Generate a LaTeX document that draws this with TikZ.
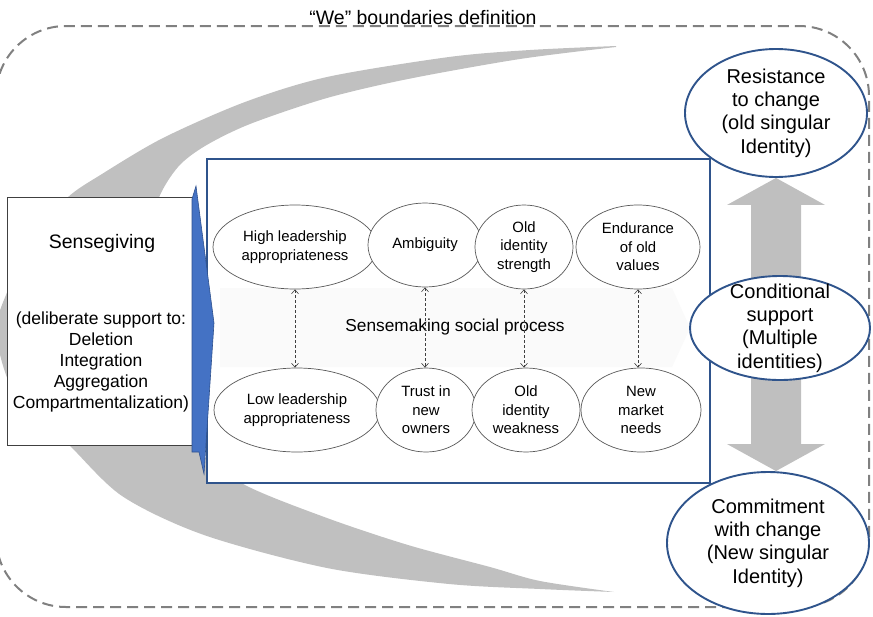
\documentclass[tikz,border=0pt]{standalone}
\usepackage{fontspec}
\setmainfont{Liberation Sans}
\usetikzlibrary{shapes.geometric,arrows.meta,backgrounds,calc}
\definecolor{bdgray}{RGB}{128,128,128}
\definecolor{cresgray}{RGB}{192,192,192}
\definecolor{arrgray}{RGB}{191,191,191}
\definecolor{boxblue}{RGB}{47,84,140}
\definecolor{chevfill}{RGB}{68,114,196}
\definecolor{chevline}{RGB}{47,82,143}
\definecolor{elgray}{RGB}{89,89,89}
\definecolor{sgline}{RGB}{64,64,64}
\begin{document}
\begin{tikzpicture}[x=1pt,y=-1pt,
  inell/.style={ellipse, draw=elgray, line width=0.7pt, fill=white, inner sep=0pt,
    font=\fontsize{14.9}{18.5}\selectfont, align=center},
  rell/.style={ellipse, draw=boxblue, line width=1.9pt, fill=white, inner xsep=0pt, inner ysep=-15pt,
    font=\fontsize{20}{23.4}\selectfont, align=center},
  darr/.style={densely dashed, line width=0.6pt, draw=black!75,
    {Straight Barb[length=4pt,width=7pt]}-{Straight Barb[length=4pt,width=7pt]}},
  sgtext/.style={font=\fontsize{17.5}{20.8}\selectfont, align=center, inner sep=0pt}
]
\useasboundingbox (0,0) rectangle (873,616);

% "We" boundary
\draw[bdgray, line width=2pt, dash pattern=on 11pt off 6pt, rounded corners=70pt]
  (-4,26) rectangle (869,607);
\node[font=\fontsize{19.5}{22}\selectfont, anchor=base, inner sep=0pt] (title) at (423,24)
  {“We” boundaries definition};

% crescent
\fill[cresgray]
  plot[smooth] coordinates {(616,46) (530,50) (449,57) (327,77) (245,102) (163,138) (102,174) (67,198)
    (32,240) (8,290) (-4,330) (8,380) (32,415) (67,443) (122,496) (204,535) (327,568) (449,584)
    (540,589) (614,592)}
  -- plot[smooth] coordinates {(614,592) (540,581) (490,567) (408,545) (327,518) (245,485) (195,448)
    (160,400) (140,330) (145,255) (158,200) (178,167) (205,146) (250,124) (327,98) (408,79) (520,59) (616,47)}
  -- cycle;

% sensegiving box
\node[draw=sgline, line width=0.8pt, fill=white, minimum width=186pt, minimum height=248pt,
  anchor=north west, inner sep=0pt] (sg) at (7,197) {};
\node[font=\fontsize{19.5}{22}\selectfont, inner sep=0pt] (sgtitle) at (102,243) {Sensegiving};
\node[sgtext] (sglist) at (101,362) {(deliberate support to:\\Deletion\\Integration\\Aggregation\\Compartmentalization)};

% main box
\node[draw=boxblue, line width=1.8pt, fill=white, minimum width=503pt, minimum height=324pt,
  anchor=north west, inner sep=0pt] (mb) at (206,158) {};
\fill[black!2] (220,288) -- (672,288) -- (690,328) -- (672,367) -- (220,367) -- cycle;

% blue chevron
\filldraw[fill=chevfill, draw=chevline, line width=0.6pt]
  (192,199) -- (196,186) -- (214,323) -- (204,474) -- (199,452) -- (192,452) -- cycle;

% inner ellipses
\node[inell, minimum width=164pt, minimum height=84pt] (e1) at (295,247) {High leadership\\appropriateness};
\node[inell, minimum width=114pt, minimum height=84pt] (e2) at (425,245) {Ambiguity};
\node[inell, minimum width=98pt, minimum height=84pt] (e3) at (524,247) {Old\\identity\\strength};
\node[inell, minimum width=124pt, minimum height=84pt] (e4) at (638,247) {Endurance\\of old\\values};
\node[inell, minimum width=166pt, minimum height=84pt] (e5) at (297,410) {Low leadership\\appropriateness};
\node[inell, minimum width=100pt, minimum height=84pt] (e6) at (426,410) {Trust in\\new\\owners};
\node[inell, minimum width=108pt, minimum height=84pt] (e7) at (526,410) {Old\\identity\\weakness};
\node[inell, minimum width=120pt, minimum height=84pt] (e8) at (641,410) {New\\market\\needs};

\node[font=\fontsize{17.3}{20}\selectfont, inner sep=0pt] (smk) at (455,327) {Sensemaking social process};

\draw[darr] (e1.south) -- (e1.south |- e5.north);
\draw[darr] (e2.south) -- (e2.south |- e6.north);
\draw[darr] (e3.south) -- (e3.south |- e7.north);
\draw[darr] (e4.south) -- (e4.south |- e8.north);

% right ellipses
\node[rell, minimum width=182pt, minimum height=128pt] (res) at (776,113) {Resistance\\to change\\(old singular\\Identity)};
\node[rell, minimum width=180pt, minimum height=104pt] (cond) at (780,328) {Conditional\\support\\(Multiple\\identities)};
\node[rell, minimum width=202pt, minimum height=142pt] (com) at (768,543) {Commitment\\with change\\(New singular\\Identity)};

\begin{pgfonlayer}{background}
\coordinate (at) at (res.south);
\coordinate (ab) at (res.south |- com.north);
\fill[arrgray] (at) -- ($(at)+(49,27)$) -- ($(at)+(25,27)$) -- ($(ab)+(25,-27)$) -- ($(ab)+(49,-27)$)
  -- (ab) -- ($(ab)+(-49,-27)$) -- ($(ab)+(-25,-27)$) -- ($(at)+(-25,27)$) -- ($(at)+(-49,27)$) -- cycle;
\end{pgfonlayer}
\end{tikzpicture}
\end{document}
